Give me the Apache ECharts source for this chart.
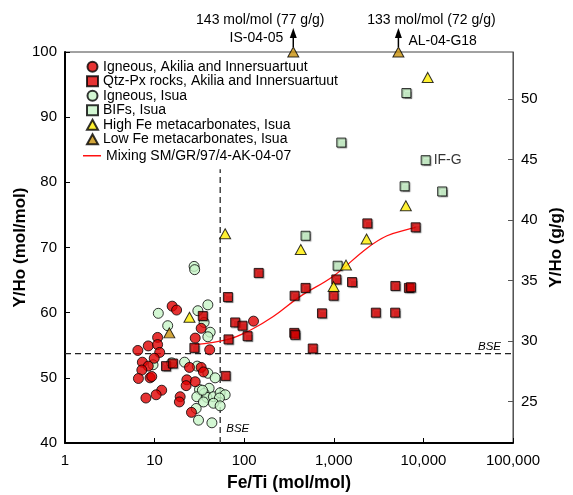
<!DOCTYPE html>
<html>
<head>
<meta charset="utf-8">
<title>Y/Ho vs Fe/Ti</title>
<script src="https://cdn.jsdelivr.net/npm/echarts@6/dist/echarts.min.js"></script>
<style>
  html, body { margin: 0; padding: 0; background: #fff; }
  #main { width: 573px; height: 495px; }
</style>
</head>
<body>
<div id="main"></div>
<script>
// Y/Ho (mol/mol) -> Y/Ho (g/g)
var MOL_TO_G = 88.906 / 164.930;

var yTicksGg = [25, 30, 35, 40, 45, 50];

// bulk silicate earth reference values
var bseFeTi = 54;
var bseYHo = 53.7;

// Igneous, Akilia and Innersuartuut
var ignAkFeTi = [15.7, 17.6, 127, 33.1, 28.4, 41.2, 10.8, 8.5, 10.8, 6.5, 11.4, 9.9, 7.3, 8.5, 7.2,
  24.5, 33.1, 35.1, 6.6, 8.9, 9.3, 22.9, 22.5, 28.4, 12.0, 10.4, 8.0, 19.3, 18.9, 25.8];
var ignAkYHo = [61.0, 60.4, 58.7, 57.6, 56.1, 54.3, 56.2, 54.9, 55.1, 54.2, 53.9, 53.0, 52.4, 51.8, 51.2,
  51.6, 51.6, 50.9, 49.9, 50.0, 50.2, 49.7, 48.8, 49.4, 48.1, 47.4, 46.9, 47.1, 46.3, 44.7];

// Qtz-Px rocks, Akilia and Innersuartuut
var qtzFeTi = [34.5, 27.8, 13.4, 16.0, 66.8, 62.1, 65.8, 79.3, 95.7, 109, 145, 365, 362, 371, 484, 582,
  738, 995, 1067, 1597, 2367, 2945, 4840, 4865, 6885, 7250, 8200];
var qtzYHo = [59.5, 54.6, 51.8, 52.2, 55.9, 50.3, 62.4, 58.5, 58.0, 56.4, 66.1, 62.6, 56.9, 56.6, 63.8, 54.5,
  59.9, 62.6, 65.1, 64.7, 73.7, 60.0, 60.0, 64.1, 63.8, 63.9, 73.1];

// Igneous, Isua
var ignIsFeTi = [27.6, 28.0, 11.0, 14.0, 39.3, 30.4, 35.7, 41.7, 39.3, 9.6, 15.5, 21.6, 29.9, 39.3, 47.4,
  40.6, 31.7, 35.7, 29.6, 38.3, 45.4, 53.9, 61.3, 52.9, 45.4, 53.9, 35.1, 29.1, 30.9, 43.6, 34.2];
var ignIsYHo = [67.1, 66.6, 59.9, 58.0, 61.2, 60.3, 58.5, 57.0, 56.3, 52.0, 52.3, 52.4, 51.8, 50.7, 50.0,
  48.4, 48.2, 47.6, 47.1, 47.0, 47.1, 47.7, 47.4, 46.9, 46.1, 45.7, 46.3, 45.3, 43.5, 43.1, 48.1];

// BIFs, Isua
var bifFeTi = [6460, 1213, 10600, 6170, 16200, 484, 1103];
var bifYHo = [93.7, 86.1, 83.4, 79.4, 78.6, 71.8, 67.2];
var bifNames = ['', '', 'IF-G', '', '', '', ''];

// High Fe metacarbonates, Isua
var hiFeFeTi = [11170, 6370, 2320, 1369, 995, 428, 61.3, 24.5];
var hiFeYHo = [96.1, 76.4, 71.3, 67.3, 64.0, 69.7, 72.1, 59.3];

// Low Fe metacarbonates, Isua (two plot off scale)
var loFeFeTi = [14.6, 353, 5260];
var loFeYHo = [56.9, 143, 133];
var loFeNames = ['', 'IS-04-05', 'AL-04-G18'];

// Mixing SM/GR/97/4-AK-04-07
var mixFeTi = [28, 66.3, 116.7, 211, 422, 986, 2350, 3930, 7160, 8200];
var mixYHo = [55.1, 55.9, 57.3, 59.4, 62.5, 65.6, 69.9, 71.8, 72.9, 73.1];

var Y_MIN = 40, Y_MAX = 100;
var FONT = '"Liberation Sans", Arial, sans-serif';

function pairs(xs, ys) {
  return xs.map(function (x, i) { return [x, Math.min(ys[i], Y_MAX)]; });
}

var border = { borderColor: '#000', borderWidth: 1 };
var legendText = { fontSize: 14, color: '#000', fontFamily: FONT, lineHeight: 14.5 };

var names = [
  'Igneous, Akilia and Innersuartuut',
  'Qtz-Px rocks, Akilia and Innersuartuut',
  'Igneous, Isua',
  'BIFs, Isua',
  'High Fe metacarbonates, Isua',
  'Low Fe metacarbonates, Isua',
  'Mixing SM/GR/97/4-AK-04-07'
];

var chart = echarts.init(document.getElementById('main'));

var option = {
  animation: false,
  textStyle: { fontFamily: FONT },
  grid: {
    left: 65, right: 60, top: 52, bottom: 52,
    outerBoundsMode: 'none',
    show: true, borderColor: '#444', borderWidth: 1
  },
  legend: [{
    orient: 'vertical',
    left: 81,
    top: 54.5,
    itemWidth: 11,
    itemHeight: 10,
    itemGap: 0,
    textStyle: legendText,
    data: names.slice(0, 6)
  }, {
    orient: 'vertical',
    left: 78,
    top: 143.5,
    itemWidth: 18,
    itemHeight: 1.5,
    icon: 'rect',
    textStyle: legendText,
    data: names.slice(6)
  }],
  xAxis: {
    type: 'log',
    logBase: 10,
    min: 1,
    max: 100000,
    name: 'Fe/Ti (mol/mol)',
    nameLocation: 'middle',
    nameGap: 31,
    nameTextStyle: { fontSize: 17.5, fontWeight: 'bold', color: '#000' },
    axisLine: { lineStyle: { color: '#000', width: 2 } },
    axisTick: { inside: true, length: 5, lineStyle: { color: '#000' } },
    axisLabel: {
      fontSize: 15, color: '#000', margin: 10,
      formatter: function (v) { return Number(v).toLocaleString('en-US'); }
    },
    splitLine: { show: false },
    minorTick: { show: false }
  },
  yAxis: [{
    type: 'value',
    min: Y_MIN,
    max: Y_MAX,
    interval: 10,
    name: 'Y/Ho (mol/mol)',
    nameLocation: 'middle',
    nameRotate: 90,
    nameGap: 36,
    nameMoveOverlap: false,
    nameTextStyle: { fontSize: 17, fontWeight: 'bold', color: '#000' },
    axisLine: { show: true, lineStyle: { color: '#000', width: 2 } },
    axisTick: { show: true, inside: true, length: 5, lineStyle: { color: '#000' } },
    axisLabel: { fontSize: 15, color: '#000', margin: 8 },
    splitLine: { show: false }
  }, {
    type: 'value',
    position: 'right',
    min: Y_MIN,
    max: Y_MAX,
    name: 'Y/Ho (g/g)',
    nameLocation: 'middle',
    nameRotate: 90,
    nameGap: 35,
    nameMoveOverlap: false,
    nameTextStyle: { fontSize: 17, fontWeight: 'bold', color: '#000' },
    axisLine: { show: true, lineStyle: { color: '#555', width: 1 } },
    axisTick: {
      show: true, inside: true, length: 5, lineStyle: { color: '#555' },
      customValues: yTicksGg.map(function (g) { return g / MOL_TO_G; })
    },
    axisLabel: {
      fontSize: 15, color: '#000', margin: 8,
      customValues: yTicksGg.map(function (g) { return g / MOL_TO_G; }),
      formatter: function (v) { return Math.round(v * MOL_TO_G); }
    },
    splitLine: { show: false }
  }],
  series: [
    {
      name: 'bse-h', type: 'line', symbol: 'none', silent: true, z: 1,
      lineStyle: { color: '#222', width: 1.2, type: [6, 4] },
      data: [[1, bseYHo], [100000, bseYHo]]
    },
    {
      name: 'bse-v', type: 'line', symbol: 'none', silent: true, z: 1,
      lineStyle: { color: '#444', width: 1.5, type: [6, 4] },
      data: [[bseFeTi, Y_MIN], [bseFeTi, 82]]
    },
    {
      name: names[6], type: 'line', symbol: 'none', smooth: 0.4, z: 2,
      lineStyle: { color: '#ff1010', width: 1.3 },
      itemStyle: { color: '#ff1010' },
      data: pairs(mixFeTi, mixYHo)
    },
    {
      name: names[2], type: 'scatter', symbol: 'circle', symbolSize: 10, z: 3,
      itemStyle: Object.assign({ color: '#c8f5c8' }, border),
      data: pairs(ignIsFeTi, ignIsYHo)
    },
    {
      name: names[0], type: 'scatter', symbol: 'circle', symbolSize: 10, z: 4,
      itemStyle: Object.assign({ color: '#e00000' }, border),
      data: pairs(ignAkFeTi, ignAkYHo)
    },
    {
      name: names[1], type: 'scatter', symbol: 'rect', symbolSize: 9, z: 4,
      itemStyle: Object.assign({
        color: '#e00000', shadowColor: 'rgba(0,0,0,0.45)', shadowOffsetX: 1, shadowOffsetY: 1, shadowBlur: 1
      }, border),
      data: pairs(qtzFeTi, qtzYHo)
    },
    {
      name: names[3], type: 'scatter', symbol: 'rect', symbolSize: 9, z: 4,
      itemStyle: Object.assign({
        color: '#c8f5c8', shadowColor: 'rgba(0,0,0,0.45)', shadowOffsetX: 1, shadowOffsetY: 1, shadowBlur: 1
      }, border),
      label: {
        show: true, position: 'right', distance: 3, fontSize: 14, color: '#000',
        formatter: function (p) { return bifNames[p.dataIndex]; }
      },
      data: pairs(bifFeTi, bifYHo)
    },
    {
      name: names[4], type: 'scatter', symbol: 'triangle', symbolSize: [11, 10], z: 5,
      itemStyle: Object.assign({ color: '#ffee00' }, border),
      data: pairs(hiFeFeTi, hiFeYHo)
    },
    {
      name: names[5], type: 'scatter', symbol: 'triangle', symbolSize: [11, 10], z: 5,
      clip: false,
      itemStyle: Object.assign({ color: '#c8900a' }, border),
      data: pairs(loFeFeTi, loFeYHo)
    }
  ]
};

chart.setOption(option);

// annotations for the off-scale points and the BSE lines
var gfx = [];
var annotFont = '14px ' + FONT;
var sideOf = { 'IS-04-05': -1, 'AL-04-G18': 1 };
loFeYHo.forEach(function (y, i) {
  if (y <= Y_MAX) return;
  var p = chart.convertToPixel({ xAxisIndex: 0, yAxisIndex: 0 }, [loFeFeTi[i], Y_MAX]);
  var side = sideOf[loFeNames[i]] || 1;
  var x = p[0], top = p[1] - 5;
  gfx.push({ type: 'line', shape: { x1: x, y1: top, x2: x, y2: top - 10 }, style: { stroke: '#000', lineWidth: 1.5 } });
  gfx.push({ type: 'polygon', shape: { points: [[x, top - 19], [x - 3.5, top - 9], [x + 3.5, top - 9]] }, style: { fill: '#000' } });
  gfx.push({
    type: 'text',
    style: {
      text: y + ' mol/mol (' + Math.round(y * MOL_TO_G) + ' g/g)',
      x: x + side * 33, y: p[1] - 32, textAlign: 'center', textVerticalAlign: 'middle', font: annotFont, fill: '#000'
    }
  });
  gfx.push({
    type: 'text',
    style: {
      text: loFeNames[i],
      x: x + side * 10, y: side < 0 ? p[1] - 14 : p[1] - 11,
      textAlign: side < 0 ? 'right' : 'left', textVerticalAlign: 'middle', font: annotFont, fill: '#000'
    }
  });
});

var ph = chart.convertToPixel({ xAxisIndex: 0, yAxisIndex: 0 }, [100000, bseYHo]);
gfx.push({
  type: 'text',
  style: { text: 'BSE', x: ph[0] - 35, y: ph[1] - 7, textAlign: 'left', textVerticalAlign: 'middle',
    font: 'italic 11.5px ' + FONT, fill: '#000' }
});
var pv = chart.convertToPixel({ xAxisIndex: 0, yAxisIndex: 0 }, [bseFeTi, Y_MIN]);
gfx.push({
  type: 'text',
  style: { text: 'BSE', x: pv[0] + 6, y: pv[1] - 14, textAlign: 'left', textVerticalAlign: 'middle',
    font: 'italic 11.5px ' + FONT, fill: '#000' }
});

chart.setOption({ graphic: gfx });
</script>
</body>
</html>
